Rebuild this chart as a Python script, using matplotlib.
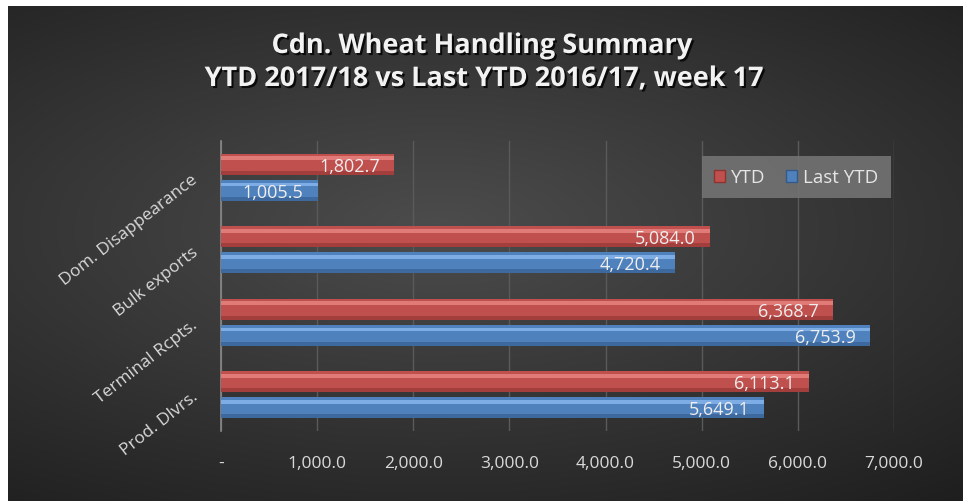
import numpy as np
import matplotlib
matplotlib.use("Agg")
import matplotlib.pyplot as plt
from matplotlib import patheffects as pe
from matplotlib.patches import Patch

categories = ["Prod. Dlvrs.", "Terminal Rcpts.", "Bulk exports", "Dom. Disappearance"]
ytd = [6113.1, 6368.7, 5084.0, 1802.7]
last_ytd = [5649.1, 6753.9, 4720.4, 1005.5]
xticks = [0, 1000, 2000, 3000, 4000, 5000, 6000, 7000]
xtick_labels = ["-", "1,000.0", "2,000.0", "3,000.0", "4,000.0", "5,000.0", "6,000.0", "7,000.0"]
series_names = ["YTD", "Last YTD"]

W, H = 963, 502
fig = plt.figure(figsize=(W / 100, H / 100), dpi=100)
fig.patch.set_facecolor("white")

# background radial gradient panel
bg = fig.add_axes([8 / W, 0, 1 - 8 / W, 1 - 7 / H])
bg.set_axis_off()
yy, xx = np.mgrid[0:1:300j, 0:1:600j]
r = np.sqrt(((xx - 0.45) / 0.9) ** 2 + ((yy - 0.55) / 0.75) ** 2)
val = np.clip(0.30 - 0.19 * r, 0.12, 0.30)
img = np.dstack([val, val, val])
bg.imshow(img, aspect="auto", extent=[0, 1, 0, 1], origin="lower")
bg.set_xlim(0, 1)
bg.set_ylim(0, 1)

ax = fig.add_axes([221 / W, 1 - 432 / H, (894 - 221) / W, (432 - 142) / H])
ax.set_facecolor("none")

y = np.arange(len(categories))
h = 0.29
off = 0.18
red, red_hi, red_dk = "#c0504d", "#e98784", "#8f3331"
blue, blue_hi, blue_dk = "#4f81bd", "#8ab8ee", "#34598a"

def draw(vals, yc, base, hi, dk):
    ax.barh(yc, vals, height=h, color=base, zorder=3)
    ax.barh(yc + h * 0.28, vals, height=h * 0.18, color=hi, zorder=4, alpha=0.8)
    ax.barh(yc - h * 0.40, vals, height=h * 0.2, color=dk, zorder=4, alpha=0.6)

draw(ytd, y + off, red, red_hi, red_dk)
draw(last_ytd, y - off, blue, blue_hi, blue_dk)

for vals, yc in ((ytd, y + off), (last_ytd, y - off)):
    for v, yy_ in zip(vals, yc):
        ax.text(v - 150, yy_ - 0.02, f"{v:,.1f}", ha="right", va="center",
                color="#eeeeee", fontsize=13, family="Open Sans", zorder=6)

ax.set_xlim(0, 7000)
ax.set_ylim(-0.5, 3.5)
ax.set_xticks(xticks)
ax.set_xticklabels(xtick_labels, color="#d9d9d9", fontsize=12.5, family="Open Sans")
ax.set_yticks(y)
ax.set_yticklabels(categories, rotation=38, ha="right", va="center", rotation_mode="anchor",
                   color="#d9d9d9", fontsize=12.5, family="Open Sans")
ax.tick_params(axis="y", length=0, pad=18)
ax.tick_params(axis="x", length=0, pad=17)
ax.grid(axis="x", color="#5a5a5a", linewidth=1, zorder=0)
for s in ["top", "right", "bottom"]:
    ax.spines[s].set_visible(False)
ax.spines["left"].set_color("#8a8a8a")
ax.spines["left"].set_linewidth(1.2)

# legend
handles = [Patch(facecolor=red, edgecolor=red_dk), Patch(facecolor=blue, edgecolor=blue_dk)]
leg = fig.legend(handles, series_names, loc="upper left",
                 bbox_to_anchor=(702 / W, 1 - 157 / H), ncol=2, frameon=True,
                 fancybox=False, facecolor="#737373", edgecolor="none", framealpha=0.9,
                 handlelength=0.6, handleheight=0.6, handletextpad=0.3, columnspacing=1.1,
                 borderpad=0.65, borderaxespad=0, prop={"family": "Open Sans", "size": 13.5})
for t in leg.get_texts():
    t.set_color("#e6e6e6")

title_fx = [pe.withSimplePatchShadow(offset=(1.5, -1.5), shadow_rgbFace="black", alpha=0.8)]
fig.text(482 / W, 1 - 47 / H, "Cdn. Wheat Handling Summary", ha="center", va="center",
         color="#f2f2f2", fontsize=19.5, fontweight="bold", family="Open Sans", path_effects=title_fx)
fig.text(484 / W, 1 - 80 / H, "YTD 2017/18 vs Last YTD 2016/17, week 17", ha="center", va="center",
         color="#f2f2f2", fontsize=19.5, fontweight="bold", family="Open Sans", path_effects=title_fx)

fig.savefig("out.png", dpi=100, facecolor=fig.get_facecolor())
